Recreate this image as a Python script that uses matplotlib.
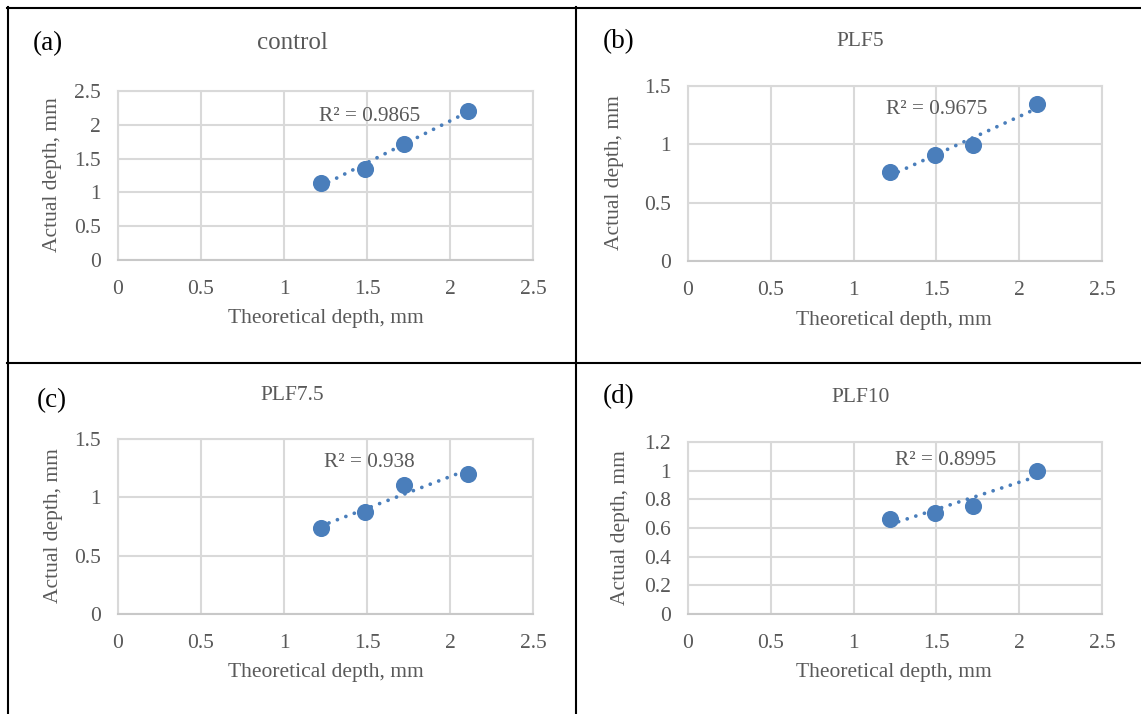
import matplotlib.pyplot as plt
import numpy as np
from matplotlib.lines import Line2D

# data
theoretical = [1.22, 1.49, 1.72, 2.11]
control = [1.14, 1.35, 1.72, 2.21]
plf5 = [0.76, 0.905, 0.995, 1.345]
plf75 = [0.735, 0.875, 1.105, 1.20]
plf10 = [0.665, 0.705, 0.755, 1.00]
r2_text = ['R² = 0.9865', 'R² = 0.9675', 'R² = 0.938', 'R² = 0.8995']
titles = ['control', 'PLF5', 'PLF7.5', 'PLF10']
panel_tags = ['(a)', '(b)', '(c)', '(d)']
y_limits = [2.5, 1.5, 1.5, 1.2]
y_steps = [0.5, 0.5, 0.5, 0.2]

W, H = 1141, 714
BLUE = '#4a7ebb'
GRAY = '#595959'
GRID = '#d9d9d9'

plt.rcParams['font.family'] = ['Liberation Serif', 'DejaVu Serif']

fig = plt.figure(figsize=(W / 100, H / 100), dpi=100)


def px(x, y):
    # pixel (from top-left) -> figure fraction
    return x / W, 1 - y / H


def add_panel(box, x, y, ytop, ystep, title, tag, r2, layout):
    left, top, right, bottom = box
    ax = fig.add_axes([left / W, 1 - bottom / H, (right - left) / W, (bottom - top) / H])
    ax.set_xlim(0, 2.5)
    ax.set_ylim(0, ytop)
    ax.set_xticks(np.arange(0, 2.51, 0.5))
    ax.set_yticks(np.arange(0, ytop + 1e-9, ystep))
    ax.xaxis.set_major_formatter(plt.FuncFormatter(lambda v, p: '%g' % round(v, 2)))
    ax.yaxis.set_major_formatter(plt.FuncFormatter(lambda v, p: '%g' % round(v, 2)))
    ax.tick_params(length=0, labelsize=15.5, colors=GRAY)
    ax.tick_params(axis='x', pad=14.5)
    ax.tick_params(axis='y', pad=12.5)
    ax.grid(True, color=GRID, lw=1.5)
    ax.set_axisbelow(True)
    for s in ax.spines.values():
        s.set_color(GRID)
        s.set_linewidth(1.5)
    ax.spines['bottom'].set_color('#c8c8c8')

    # linear trendline, dotted
    k, b = np.polyfit(x, y, 1)
    xs = np.array([min(x), max(x)])
    ax.plot(xs, k * xs + b, color=BLUE, lw=2.7, linestyle=(0, (0.01, 2.4)),
            dash_capstyle='round', zorder=3)
    ax.plot(x, y, 'o', color=BLUE, ms=11.3, zorder=4)

    rx, ry = layout['r2']
    ax.text(rx, ry, r2, transform=ax.transAxes, ha='center', va='center',
            fontsize=15.3, color=GRAY)

    tx, ty, tfs = layout['title']
    fig.text(*px(tx, ty), title, ha='center', va='center', fontsize=tfs, color=GRAY)
    gx, gy = layout['tag']
    fig.text(*px(gx, gy), tag, ha='left', va='center', fontsize=19.5, color='black')
    xlx, xly = layout['xlabel']
    fig.text(*px(xlx, xly), 'Theoretical depth, mm', ha='center', va='center',
             fontsize=15.5, color=GRAY)
    ylx, yly = layout['ylabel']
    fig.text(*px(ylx, yly), 'Actual depth, mm', ha='center', va='center',
             rotation=90, fontsize=15.5, color=GRAY)
    return ax


boxes = [(118, 91, 533, 260), (688, 86, 1102, 261),
         (118, 439, 533, 614), (688, 442, 1102, 614)]
layouts = [
    dict(r2=(0.607, 0.85), title=(292, 43, 18), tag=(33, 44),
         xlabel=(326, 319), ylabel=(53, 175)),
    dict(r2=(0.60, 0.863), title=(860, 42, 15.5), tag=(603, 42),
         xlabel=(894, 320), ylabel=(615, 173)),
    dict(r2=(0.605, 0.867), title=(292, 395, 15.5), tag=(37, 401),
         xlabel=(326, 673), ylabel=(54, 526)),
    dict(r2=(0.623, 0.895), title=(861, 397, 15.5), tag=(603, 397),
         xlabel=(894, 673), ylabel=(620, 528)),
]
series = [control, plf5, plf75, plf10]

for i in range(4):
    add_panel(boxes[i], theoretical, series[i], y_limits[i], y_steps[i],
              titles[i], panel_tags[i], r2_text[i], layouts[i])

# table borders around the panels
border_lw = 1.5
for (x0, y0, x1, y1) in [(7, 7.5, W, 7.5), (7.5, 7, 7.5, H),
                         (576, 7, 576, H), (7, 362.5, W, 362.5)]:
    fig.add_artist(Line2D([x0 / W, x1 / W], [1 - y0 / H, 1 - y1 / H],
                          transform=fig.transFigure, color='black', lw=border_lw))

fig.savefig('out.png', dpi=100, facecolor='white')
